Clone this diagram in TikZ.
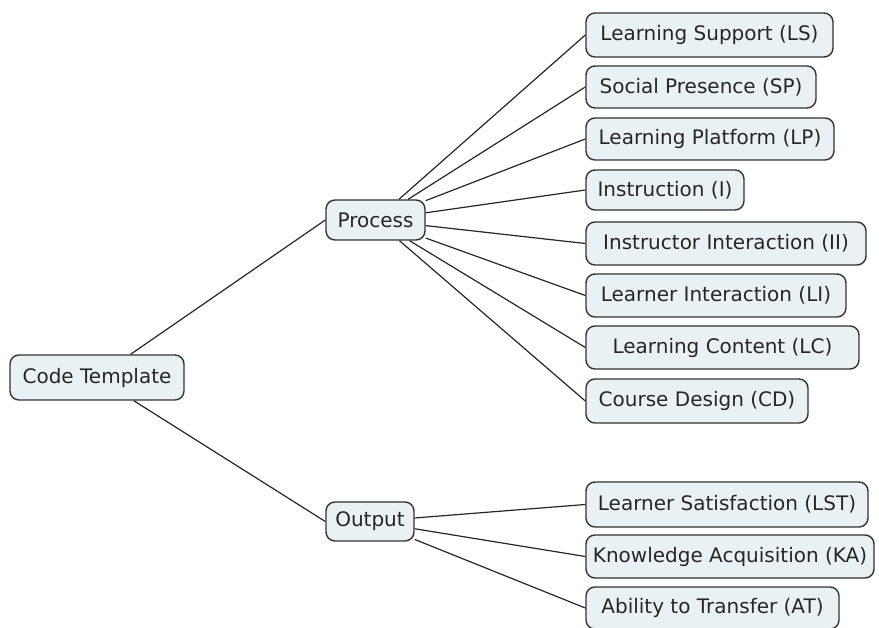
\documentclass[tikz,border=0pt]{standalone}
\usepackage{fontspec}
\setmainfont{DejaVu Sans}
\begin{document}
\begin{tikzpicture}[x=1pt,y=-1pt,
  box/.style={draw=black!80, line width=1.4pt, fill={rgb,255:red,234;green,241;blue,245},
    rounded corners=9pt, font=\fontsize{20}{24}\selectfont, inner xsep=0pt, inner ysep=0pt,
    text=black!85},
  link/.style={line width=1.2pt, draw=black!85}]
\useasboundingbox (0,0) rectangle (879,628);
\node[box, minimum width=174pt, minimum height=45pt] (ct) at (97,377.5) {Code Template};
\node[box, minimum width=99pt, minimum height=40pt] (pr) at (375.5,220) {Process};
\node[box, minimum width=88pt, minimum height=39pt] (ou) at (370,521.5) {Output};
\node[box, minimum width=247pt, minimum height=44pt] (ls) at (709.5,35) {Learning Support (LS)};
\node[box, minimum width=230pt, minimum height=42pt] (sp) at (701,87) {Social Presence (SP)};
\node[box, minimum width=248pt, minimum height=42pt] (lp) at (710,139) {Learning Platform (LP)};
\node[box, minimum width=158pt, minimum height=40pt] (in) at (665,190) {Instruction (I)};
\node[box, minimum width=280pt, minimum height=43pt] (ii) at (726,243.5) {Instructor Interaction (II)};
\node[box, minimum width=260pt, minimum height=43pt] (li) at (716,295.5) {Learner Interaction (LI)};
\node[box, minimum width=273pt, minimum height=43pt] (lc) at (722.5,347.5) {Learning Content (LC)};
\node[box, minimum width=222pt, minimum height=44pt] (cd) at (697,401) {Course Design (CD)};
\node[box, minimum width=282pt, minimum height=45pt] (lst) at (727,504.5) {Learner Satisfaction (LST)};
\node[box, minimum width=288pt, minimum height=43pt] (ka) at (730,556.5) {Knowledge Acquisition (KA)};
\node[box, minimum width=253pt, minimum height=42pt] (at) at (712.5,608) {Ability to Transfer (AT)};
\draw[link] (ct) -- (pr.west);
\draw[link] (ct) -- (ou.west);
\foreach \n in {ls,sp,lp,in,ii,li,lc,cd} \draw[link] (pr) -- (\n.west);
\foreach \n in {lst,ka,at} \draw[link] (ou) -- (\n.west);
\end{tikzpicture}
\end{document}
